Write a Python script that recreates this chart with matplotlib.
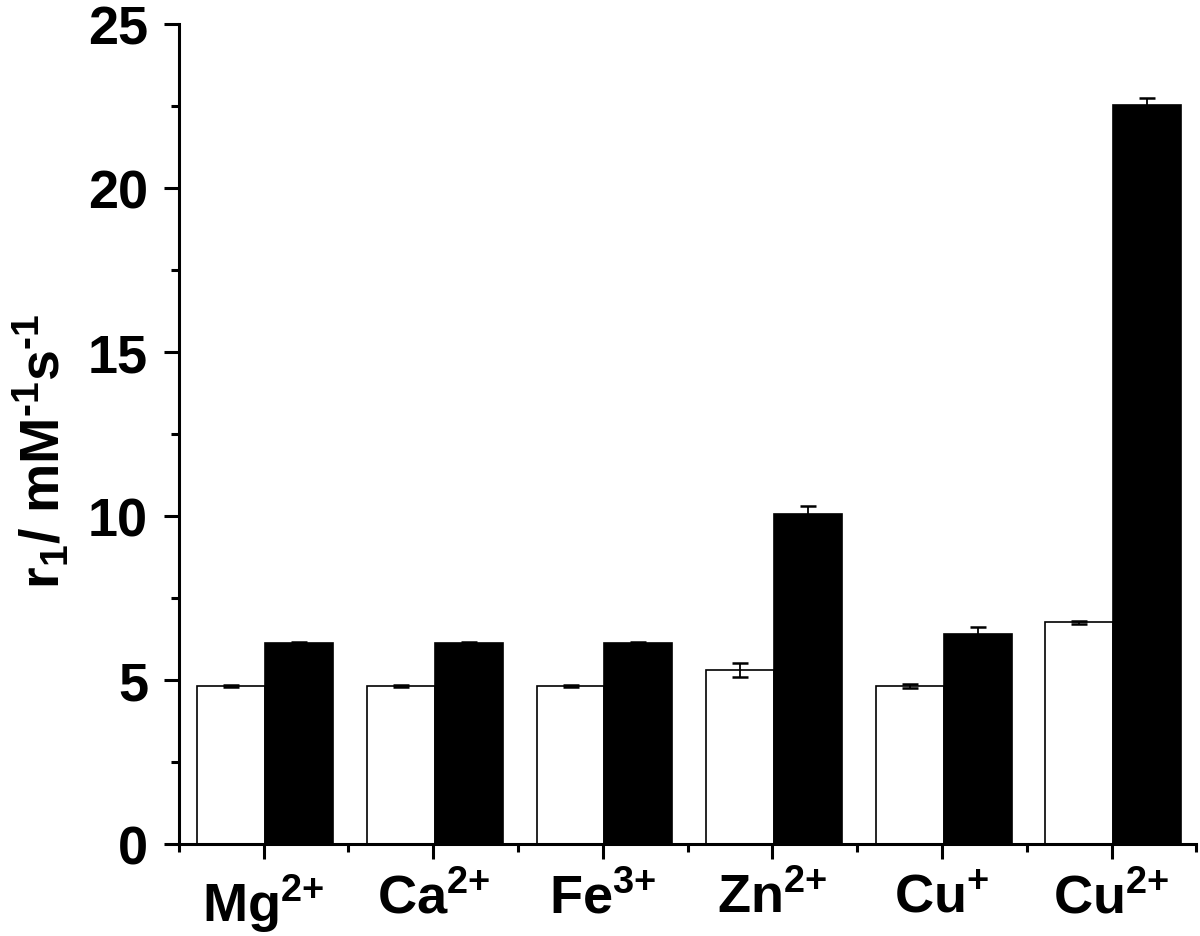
import numpy as np
import matplotlib
matplotlib.use("Agg")
import matplotlib.pyplot as plt
from matplotlib.ticker import MultipleLocator

plt.rcParams['font.family'] = ['Liberation Sans', 'DejaVu Sans']
plt.rcParams['font.weight'] = 'bold'
plt.rcParams['mathtext.fontset'] = 'custom'
plt.rcParams['mathtext.rm'] = 'Liberation Sans:bold'
plt.rcParams['mathtext.bf'] = 'Liberation Sans:bold'
plt.rcParams['mathtext.it'] = 'Liberation Sans:bold'
plt.rcParams['mathtext.default'] = 'bf'

# data
ions = [r'Mg$^{2{+}}$', r'Ca$^{2{+}}$', r'Fe$^{3{+}}$', r'Zn$^{2{+}}$', r'Cu$^{{+}}$', r'Cu$^{2{+}}$']
r1_white = [4.82, 4.82, 4.82, 5.30, 4.82, 6.77]
err_white = [0.02, 0.02, 0.03, 0.21, 0.05, 0.05]
r1_black = [6.13, 6.13, 6.12, 10.07, 6.40, 22.53]
err_black = [0.05, 0.05, 0.04, 0.25, 0.22, 0.22]

x = np.arange(len(ions))
w = 0.4

fig = plt.figure(figsize=(12, 9.37), dpi=100)
ax = fig.add_axes([0.149, 0.098, 0.848, 0.875])

ax.bar(x - 0.19, r1_white, w, color='white', edgecolor='black', linewidth=1.2, zorder=2)
ax.bar(x + 0.21, r1_black, w, color='black', edgecolor='black', linewidth=1.2, zorder=2)
ax.errorbar(x - 0.19, r1_white, yerr=err_white, fmt='none', ecolor='black',
            elinewidth=1.3, capsize=6, capthick=1.8, zorder=3)
ax.errorbar(x + 0.21, r1_black, yerr=err_black, fmt='none', ecolor='black',
            elinewidth=1.3, capsize=6, capthick=1.8, zorder=1)

ax.set_xlim(-0.5, len(ions) - 0.5)
ax.set_ylim(0, 25)
ax.set_xticks(x)
ax.set_xticklabels(ions)
ax.xaxis.set_minor_locator(MultipleLocator(1, offset=0.5))
ax.yaxis.set_major_locator(MultipleLocator(5))
ax.yaxis.set_minor_locator(MultipleLocator(2.5))

for s in ['top', 'right']:
    ax.spines[s].set_visible(False)
for s in ['left', 'bottom']:
    ax.spines[s].set_linewidth(2.2)

ax.tick_params(which='major', direction='out', length=11, width=2.2, labelsize=39, pad=9)
ax.tick_params(which='minor', direction='out', length=6, width=2.2)
ax.tick_params(axis='y', which='major', pad=11)

ax.set_ylabel('r$_1$/ mM$^{\u2010 1}$s$^{\u2010 1}$', fontsize=40, fontweight='bold',
              labelpad=14)
ax.yaxis.set_label_coords(-0.105, 0.48)

fig.savefig('out.png', dpi=100)
